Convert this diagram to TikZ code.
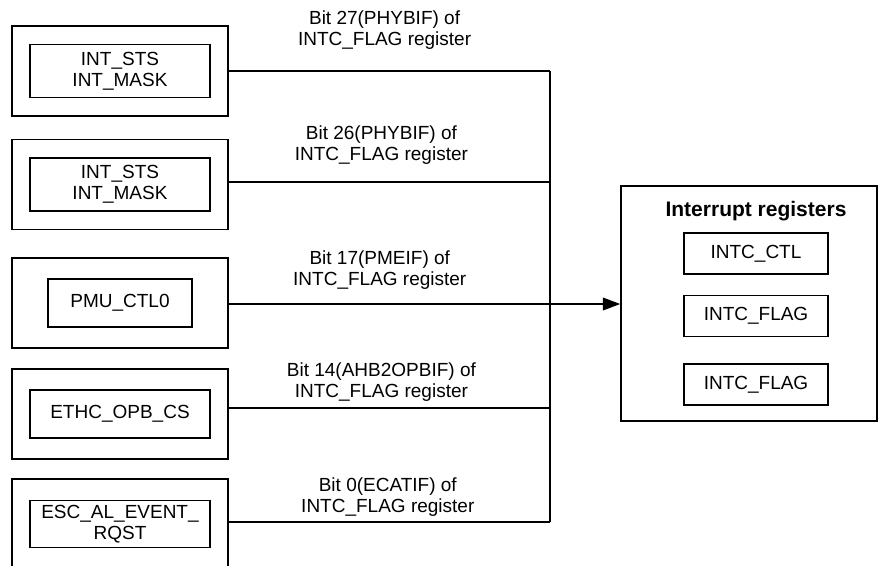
\documentclass[tikz,border=0pt]{standalone}
\usepackage{fontspec}
\setmainfont{Liberation Sans}
\usetikzlibrary{arrows.meta,positioning}

\tikzset{
  outbox/.style={draw, minimum width=162pt, minimum height=67.5pt, inner sep=0pt},
  inbox/.style={draw, align=center, minimum width=135pt, minimum height=36pt, inner sep=0pt,
    font=\fontsize{14.25}{16}\selectfont},
  lbl/.style={align=center, inner sep=0pt, font=\fontsize{14.25}{15.5}\selectfont},
  ttl/.style={inner sep=0pt, font=\bfseries\fontsize{15.75}{18}\selectfont}
}

\begin{document}
\begin{tikzpicture}[x=0.75pt,y=-0.75pt,line width=1.2pt,>={Triangle[length=13pt,width=9.5pt]}]
  \useasboundingbox (0,0) rectangle (880,565);
  \clip (0,0) rectangle (880,565);

  % interrupt sources
  \node[outbox] (b1) at (120,71)    {};
  \node[outbox] (b2) at (120,184.5) {};
  \node[outbox] (b3) at (120,303)   {};
  \node[outbox] (b4) at (120,414)   {};
  \node[outbox] (b5) at (120,524)   {};
  \node[inbox, minimum height=39.75pt] (i1) at (b1) {INT\_STS\\INT\_MASK};
  \node[inbox, minimum height=39.75pt] (i2) at (b2) {INT\_STS\\INT\_MASK};
  \node[inbox, minimum width=108pt]    (i3) at (b3) {PMU\_CTL0};
  \node[inbox]                         (i4) at (b4) {ETHC\_OPB\_CS};
  \node[inbox, minimum height=35.25pt] (i5) at (b5) {ESC\_AL\_EVENT\_\\RQST};

  % interrupt registers
  \node[outbox, minimum width=192pt, minimum height=176.25pt] (reg) at (749,303.5) {};
  \node[inbox, minimum width=108pt, minimum height=30.75pt] (r1) at (756,253.5) {INTC\_CTL};
  \node[inbox, minimum width=108pt, minimum height=30.75pt] (r2) [below=15pt of r1] {INTC\_FLAG};
  \node[inbox, minimum width=108pt, minimum height=30.75pt] (r3) [below=19.5pt of r2] {INTC\_FLAG};
  \node[ttl] (title) [above=8pt of r1] {Interrupt registers};

  % bus
  \coordinate (j1) at (550,71);
  \coordinate (j2) at (550,182);
  \coordinate (j3) at (550,304);
  \coordinate (j4) at (550,408);
  \coordinate (j5) at (550,522);

  \path[draw]
    (j1 -| b1.east) -- node[lbl, pos=.485, above=15.75pt] {Bit 27(PHYBIF) of\\INTC\_FLAG register} (j1)
    (j2 -| b2.east) -- node[lbl, pos=.475, above=12.75pt] {Bit 26(PHYBIF) of\\INTC\_FLAG register} (j2)
    (j3 -| b3.east) -- node[lbl, pos=.47,  above=10.5pt]  {Bit 17(PMEIF) of\\INTC\_FLAG register} (j3)
    (j4 -| b4.east) -- node[lbl, pos=.475, above=4.5pt]   {Bit 14(AHB2OPBIF) of\\INTC\_FLAG register} (j4)
    (j5 -| b5.east) -- node[lbl, pos=.495, above=3.75pt]  {Bit 0(ECATIF) of\\INTC\_FLAG register} (j5)
  ;
  \draw (j1) -- (j5);
  \draw[->] (j3) -- (j3 -| reg.west);
\end{tikzpicture}
\end{document}
